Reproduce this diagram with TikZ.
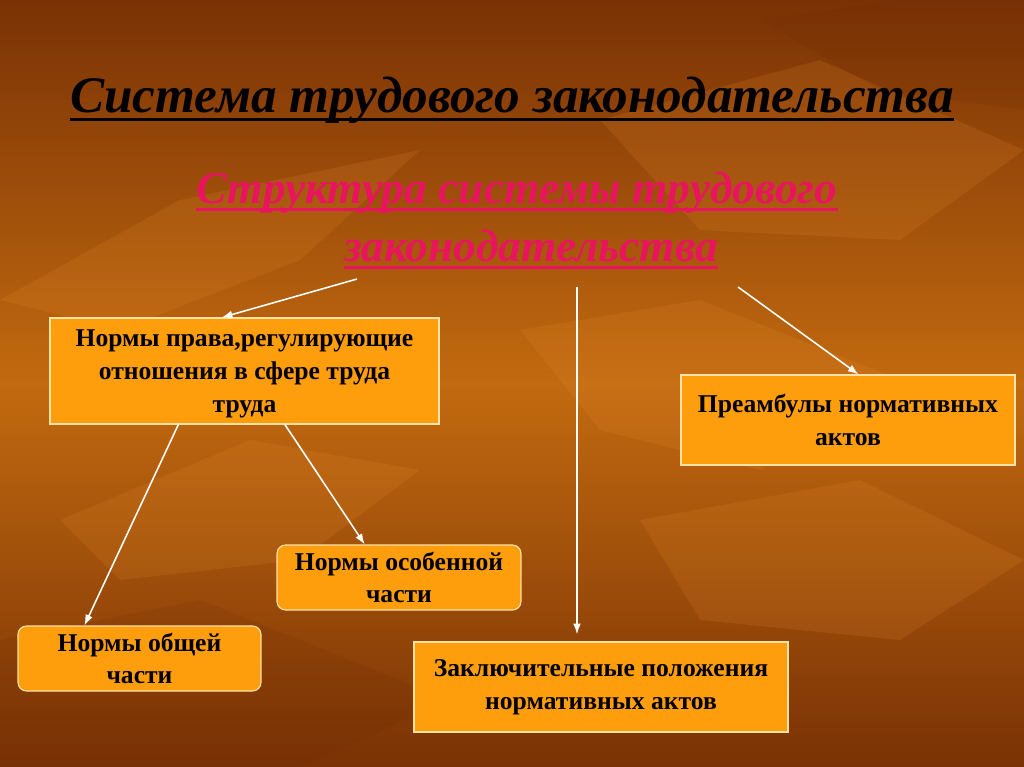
\documentclass[tikz,border=0pt]{standalone}
\usepackage{fontspec}
\setmainfont{Liberation Serif}
\usetikzlibrary{arrows,arrows.meta,positioning,calc}
\definecolor{boxfill}{HTML}{FF9E0C}
\definecolor{boxline}{HTML}{FFE2A8}
\definecolor{rose}{HTML}{E8155E}
\definecolor{bgdark}{HTML}{7A3205}
\definecolor{bgmid}{HTML}{C26A10}
\definecolor{leaflight}{HTML}{E89030}
\definecolor{leafdark}{HTML}{6A2A04}
\tikzset{
normbox/.style = {draw=boxline, fill=boxfill, rectangle, align=center, line width=0.8pt, inner sep=2pt, text=black, font=\bfseries\fontsize{18}{23}\selectfont},
roundbox/.style = {normbox, rounded corners=6pt},
link/.style = {->, draw=white, line width=1.1pt},
headtext/.style = {inner sep=0pt, font=\bfseries\itshape\fontsize{36}{40}\selectfont},
subtext/.style = {inner sep=0pt, text=rose, font=\bfseries\itshape\fontsize{32}{36}\selectfont},
leaf/.style = {fill=leaflight, opacity=0.16}
}
\begin{document}
\begin{tikzpicture}[x=0.703pt, y=-0.703pt, >={Latex[length=7.5pt,width=5.5pt]}]
   % background
   \shade[top color=bgdark, bottom color=bgdark, middle color=bgmid] (0,0) rectangle (1024,767);
   \useasboundingbox (0,0) rectangle (1024,767);
   \fill[leaf] (0,300) -- (180,200) -- (420,150) -- (300,260) -- (120,330) -- cycle;
   \fill[leaf] (600,120) -- (820,60) -- (1024,150) -- (900,240) -- (700,230) -- cycle;
   \fill[leaf] (520,330) -- (700,300) -- (900,380) -- (760,470) -- (600,430) -- cycle;
   \fill[leaf] (60,520) -- (250,440) -- (420,470) -- (300,560) -- (120,580) -- cycle;
   \fill[leaf] (640,520) -- (860,480) -- (1024,560) -- (900,640) -- (700,620) -- cycle;
   \fill[leafdark, opacity=0.15] (0,640) -- (200,600) -- (450,700) -- (300,767) -- (0,767) -- cycle;
   \fill[leafdark, opacity=0.15] (760,20) -- (900,0) -- (1024,0) -- (1024,110) -- (880,90) -- cycle;

   % headings
   \node [headtext, text=black] (title) at (512,100) {Система трудового законодательства};
   \node [subtext] (sub1) at (517,193) {Структура системы трудового};
   \node [subtext] (sub2) at (531,246) {законодательства};
   \draw [black, line width=2pt] ([yshift=-5pt]title.base west) -- ([yshift=-5pt]title.base east);
   \draw [rose, line width=2pt] ([yshift=-4pt]sub1.base west) -- ([yshift=-4pt]sub1.base east);
   \draw [rose, line width=2pt] ([yshift=-4pt]sub2.base west) -- ([yshift=-4pt]sub2.base east);

   % boxes
   \node [normbox, minimum width=273.5pt, minimum height=74.5pt] (rights) at (244.5,371)
     {\rule{0pt}{16pt}Нормы права,регулирующие\\ отношения в сфере труда\\ труда};
   \node [normbox, minimum width=234.8pt, minimum height=63.3pt] (preamble) at (848,420)
     {Преамбулы нормативных\\ актов};
   \node [roundbox, minimum width=171.5pt, minimum height=45.7pt] (special) at (399,577.5)
     {Нормы особенной\\ части};
   \node [roundbox, minimum width=170.8pt, minimum height=45.7pt] (common) at (139.5,658.5)
     {Нормы общей\\ части};
   \node [normbox, minimum width=263pt, minimum height=63.3pt] (final) at (601,687)
     {Заключительные положения\\ нормативных актов};

   % arrows
   \coordinate (s1) at (357,279);
   \coordinate (s2) at (577,287);
   \coordinate (s3) at (738,287);
   \draw [link] (s1) -- (rights.113);
   \draw [link, shorten >=5pt] (s2) -- (s2 |- final.north);
   \draw [link] (s3) -- (preamble.77);
   \draw [link] (rights.219) -- (common.149);
   \draw [link] (rights.307) -- (special.136);
\end{tikzpicture}
\end{document}
